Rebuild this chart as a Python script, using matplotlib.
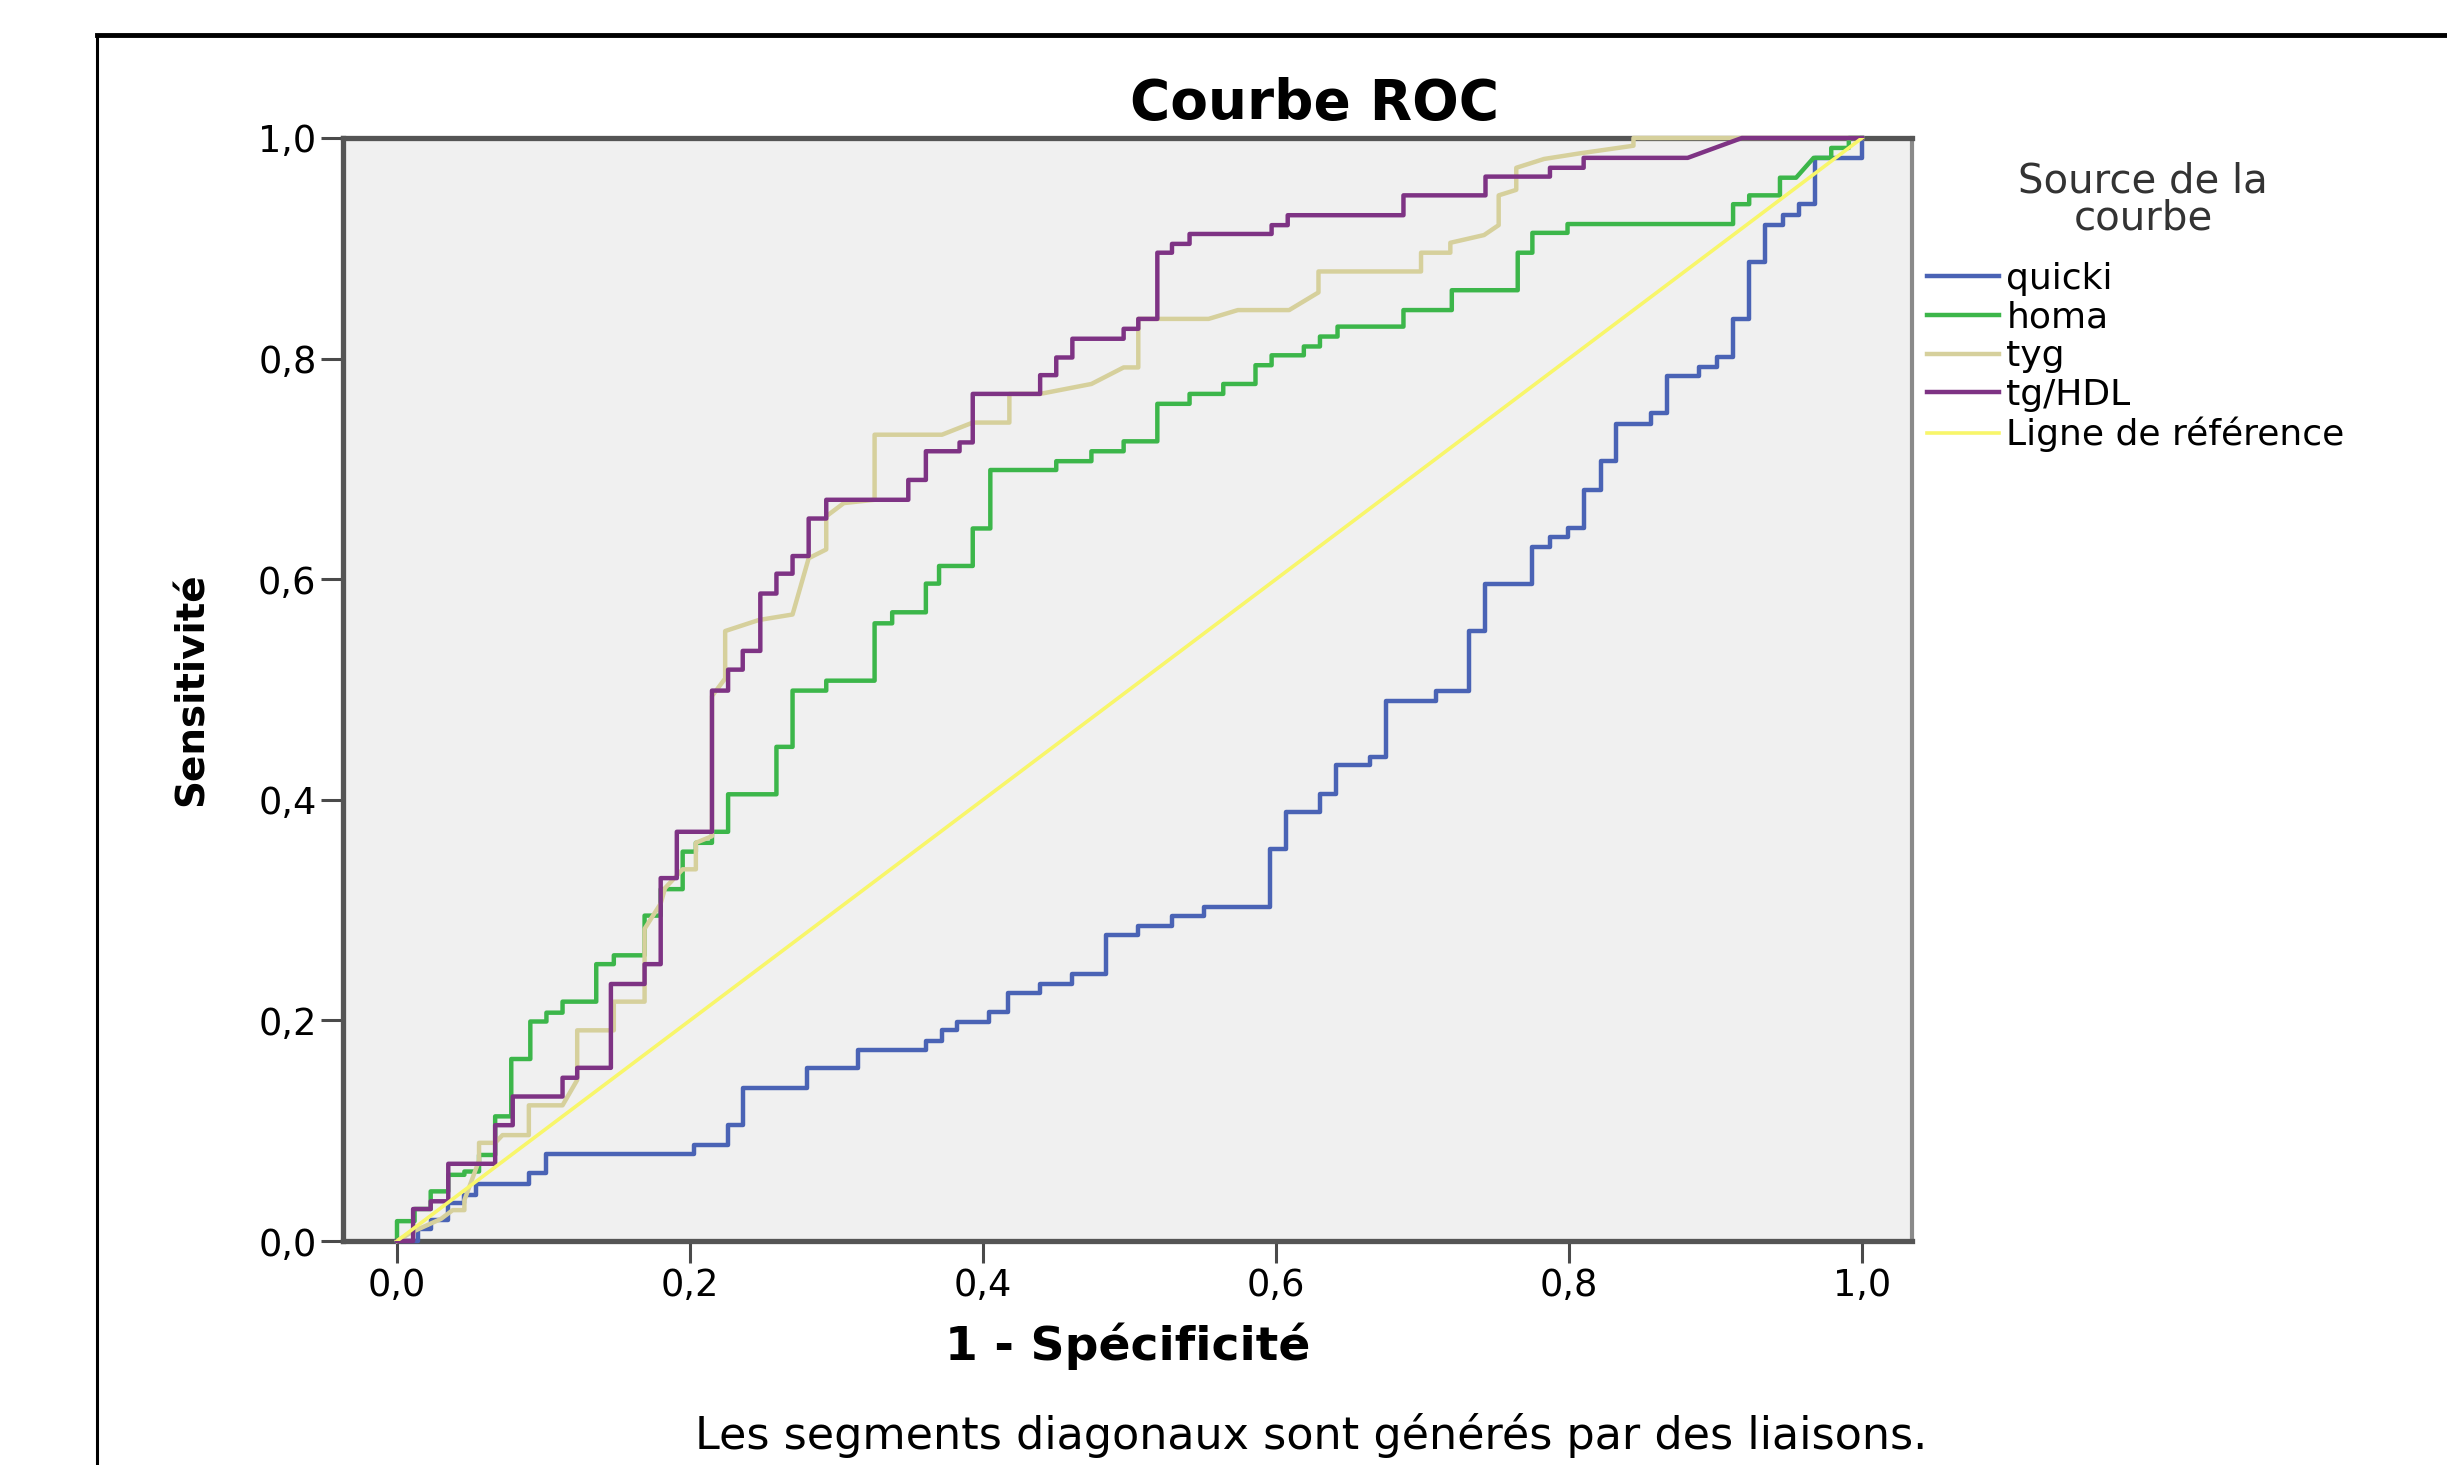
from matplotlib import pyplot as plt
from matplotlib.lines import Line2D

# ROC points (1 - specificity, sensitivity)
quicki_x = [0, 0.014, 0.014, 0.023, 0.023, 0.035, 0.035, 0.046, 0.046, 0.054, 0.054, 0.090, 0.090, 0.102, 0.102,
            0.203, 0.203, 0.226, 0.226, 0.236, 0.236, 0.280, 0.280, 0.315, 0.315, 0.361, 0.361, 0.372, 0.372,
            0.382, 0.382, 0.404, 0.404, 0.417, 0.417, 0.439, 0.439, 0.461, 0.461, 0.484, 0.484, 0.506, 0.506,
            0.529, 0.529, 0.551, 0.551, 0.596, 0.596, 0.607, 0.607, 0.630, 0.630, 0.641, 0.641, 0.664, 0.664,
            0.675, 0.675, 0.709, 0.709, 0.732, 0.732, 0.743, 0.743, 0.775, 0.775, 0.787, 0.787, 0.799, 0.799,
            0.810, 0.810, 0.822, 0.822, 0.832, 0.832, 0.856, 0.856, 0.867, 0.867, 0.889, 0.889, 0.901, 0.901,
            0.912, 0.912, 0.923, 0.923, 0.934, 0.934, 0.946, 0.946, 0.957, 0.957, 0.968, 0.968, 1.0, 1.0]
quicki_y = [0, 0, 0.011, 0.011, 0.019, 0.019, 0.034, 0.034, 0.042, 0.042, 0.052, 0.052, 0.062, 0.062, 0.079,
            0.079, 0.087, 0.087, 0.105, 0.105, 0.139, 0.139, 0.157, 0.157, 0.173, 0.173, 0.181, 0.181, 0.191,
            0.191, 0.199, 0.199, 0.208, 0.208, 0.225, 0.225, 0.233, 0.233, 0.242, 0.242, 0.277, 0.277, 0.286,
            0.286, 0.295, 0.295, 0.303, 0.303, 0.355, 0.355, 0.389, 0.389, 0.405, 0.405, 0.432, 0.432, 0.439,
            0.439, 0.490, 0.490, 0.499, 0.499, 0.553, 0.553, 0.596, 0.596, 0.629, 0.629, 0.638, 0.638, 0.646,
            0.646, 0.681, 0.681, 0.707, 0.707, 0.741, 0.741, 0.751, 0.751, 0.784, 0.784, 0.792, 0.792, 0.801,
            0.801, 0.836, 0.836, 0.888, 0.888, 0.921, 0.921, 0.930, 0.930, 0.940, 0.940, 0.982, 0.982, 1.0]

homa_x = [0, 0, 0.012, 0.012, 0.023, 0.023, 0.035, 0.035, 0.046, 0.046, 0.056, 0.056, 0.067, 0.067, 0.078,
          0.078, 0.091, 0.091, 0.102, 0.102, 0.113, 0.113, 0.136, 0.136, 0.148, 0.148, 0.169, 0.169, 0.180,
          0.180, 0.195, 0.195, 0.204, 0.204, 0.215, 0.215, 0.226, 0.226, 0.259, 0.259, 0.270, 0.270, 0.293,
          0.293, 0.326, 0.326, 0.338, 0.338, 0.361, 0.361, 0.370, 0.370, 0.393, 0.393, 0.405, 0.405, 0.450,
          0.450, 0.474, 0.474, 0.496, 0.496, 0.519, 0.519, 0.541, 0.541, 0.564, 0.564, 0.586, 0.586, 0.597,
          0.597, 0.619, 0.619, 0.630, 0.630, 0.642, 0.642, 0.687, 0.687, 0.720, 0.720, 0.765, 0.765, 0.775,
          0.775, 0.799, 0.799, 0.912, 0.912, 0.923, 0.923, 0.944, 0.944, 0.955, 0.967, 0.979, 0.979, 0.991,
          0.991, 1.0]
homa_y = [0, 0.018, 0.018, 0.029, 0.029, 0.045, 0.045, 0.060, 0.060, 0.063, 0.063, 0.078, 0.078, 0.113, 0.113,
          0.165, 0.165, 0.199, 0.199, 0.207, 0.207, 0.217, 0.217, 0.251, 0.251, 0.259, 0.259, 0.295, 0.295,
          0.319, 0.319, 0.353, 0.353, 0.361, 0.361, 0.371, 0.371, 0.405, 0.405, 0.448, 0.448, 0.499, 0.499,
          0.508, 0.508, 0.560, 0.560, 0.570, 0.570, 0.596, 0.596, 0.612, 0.612, 0.646, 0.646, 0.699, 0.699,
          0.707, 0.707, 0.716, 0.716, 0.725, 0.725, 0.759, 0.759, 0.768, 0.768, 0.777, 0.777, 0.794, 0.794,
          0.803, 0.803, 0.811, 0.811, 0.820, 0.820, 0.829, 0.829, 0.844, 0.844, 0.862, 0.862, 0.896, 0.896,
          0.914, 0.914, 0.922, 0.922, 0.940, 0.940, 0.948, 0.948, 0.964, 0.964, 0.982, 0.982, 0.991, 0.991,
          1.0, 1.0]

tyg_x = [0, 0.010, 0.030, 0.038, 0.046, 0.046, 0.056, 0.056, 0.067, 0.072, 0.090, 0.090, 0.113, 0.123, 0.123,
         0.148, 0.148, 0.169, 0.169, 0.180, 0.183, 0.195, 0.204, 0.204, 0.215, 0.215, 0.224, 0.224, 0.247,
         0.270, 0.281, 0.293, 0.293, 0.305, 0.326, 0.326, 0.372, 0.393, 0.418, 0.418, 0.439, 0.474, 0.496,
         0.506, 0.506, 0.554, 0.574, 0.609, 0.629, 0.629, 0.699, 0.699, 0.719, 0.719, 0.742, 0.752, 0.752,
         0.764, 0.764, 0.783, 0.807, 0.844, 0.844, 1.0]
tyg_y = [0, 0.008, 0.020, 0.028, 0.028, 0.037, 0.073, 0.089, 0.089, 0.096, 0.096, 0.123, 0.123, 0.146, 0.191,
         0.191, 0.217, 0.217, 0.283, 0.306, 0.320, 0.337, 0.337, 0.361, 0.367, 0.494, 0.510, 0.553, 0.563,
         0.568, 0.619, 0.627, 0.657, 0.669, 0.672, 0.731, 0.731, 0.742, 0.742, 0.768, 0.768, 0.777, 0.792,
         0.792, 0.836, 0.836, 0.844, 0.844, 0.860, 0.879, 0.879, 0.896, 0.896, 0.905, 0.912, 0.921, 0.948,
         0.953, 0.973, 0.981, 0.986, 0.993, 1.0, 1.0]

tghdl_x = [0, 0.011, 0.011, 0.023, 0.023, 0.035, 0.035, 0.067, 0.067, 0.079, 0.079, 0.113, 0.113, 0.123, 0.123,
           0.146, 0.146, 0.169, 0.169, 0.180, 0.180, 0.191, 0.191, 0.215, 0.215, 0.226, 0.226, 0.236, 0.236,
           0.248, 0.248, 0.259, 0.259, 0.270, 0.270, 0.281, 0.281, 0.293, 0.293, 0.349, 0.349, 0.361, 0.361,
           0.384, 0.384, 0.393, 0.393, 0.439, 0.439, 0.450, 0.450, 0.461, 0.461, 0.496, 0.496, 0.506, 0.506,
           0.519, 0.519, 0.529, 0.529, 0.541, 0.541, 0.597, 0.597, 0.608, 0.608, 0.687, 0.687, 0.743, 0.743,
           0.787, 0.787, 0.810, 0.810, 0.881, 0.918, 1.0]
tghdl_y = [0, 0, 0.029, 0.029, 0.036, 0.036, 0.070, 0.070, 0.105, 0.105, 0.131, 0.131, 0.148, 0.148, 0.157,
           0.157, 0.233, 0.233, 0.251, 0.251, 0.329, 0.329, 0.371, 0.371, 0.499, 0.499, 0.518, 0.518, 0.535,
           0.535, 0.587, 0.587, 0.605, 0.605, 0.621, 0.621, 0.655, 0.655, 0.672, 0.672, 0.690, 0.690, 0.716,
           0.716, 0.724, 0.724, 0.768, 0.768, 0.785, 0.785, 0.801, 0.801, 0.818, 0.818, 0.827, 0.827, 0.836,
           0.836, 0.896, 0.896, 0.904, 0.904, 0.913, 0.913, 0.921, 0.921, 0.930, 0.930, 0.948, 0.948, 0.965,
           0.965, 0.973, 0.973, 0.982, 0.982, 1.0, 1.0]

ref_x = [0, 1]
ref_y = [0, 1]

ticks = [0.0, 0.2, 0.4, 0.6, 0.8, 1.0]
tick_labels = ["0,0", "0,2", "0,4", "0,6", "0,8", "1,0"]

W, H = 2447, 1465
fig = plt.figure(figsize=(W / 100, H / 100), dpi=100)
ax = fig.add_axes([343 / W, 1 - 1241 / H, (1912 - 343) / W, (1241 - 138) / H])
ax.set_facecolor("#f0f0f0")

ax.plot(quicki_x, quicki_y, c="#4a63b5", lw=3.2, label="quicki", zorder=3, clip_on=False)
ax.plot(homa_x, homa_y, c="#3cb64a", lw=3.2, label="homa", zorder=3, clip_on=False)
ax.plot(tyg_x, tyg_y, c="#d6d09c", lw=3.2, label="tyg", zorder=3, clip_on=False)
ax.plot(tghdl_x, tghdl_y, c="#7e3384", lw=3.2, label="tg/HDL", zorder=3, clip_on=False)
ax.plot(ref_x, ref_y, c="#f8f66a", lw=2.6, label="Ligne de référence", zorder=3)

ax.set_xlim((343 - 397) / 1465, (1912 - 397) / 1465)
ax.set_ylim(0, 1)
ax.set_xticks(ticks)
ax.set_xticklabels(tick_labels)
ax.set_yticks(ticks)
ax.set_yticklabels(tick_labels)
ax.tick_params(length=16, width=2.2, color="#4a4a4a", labelsize=26.5, pad=3)
for lab in ax.get_xticklabels() + ax.get_yticklabels():
    lab.set_family("DejaVu Sans")

for s in ["left", "top", "bottom"]:
    ax.spines[s].set_color("#555555")
    ax.spines[s].set_linewidth(3.8)
ax.spines["right"].set_color("#8a8a8a")
ax.spines["right"].set_linewidth(3)

ax.set_title("Courbe ROC", x=(1314 - 343) / 1569, y=(1241 - 104) / 1103, va="center", pad=0,
             fontsize=39.5, fontweight="bold", family="DejaVu Sans")
ax.set_xlabel("1 - Spécificité", fontsize=34, fontweight="bold", family="DejaVu Sans", va="center")
ax.xaxis.set_label_coords(0.5, (1241 - 1346) / 1103)
ax.set_ylabel("Sensitivité", fontsize=28, fontweight="bold", family="DejaVu Sans", va="center")
ax.yaxis.set_label_coords((192 - 343) / 1569, 0.5)

leg = ax.legend(loc="upper left", bbox_to_anchor=(1927 / W, 1 - 262 / H), bbox_transform=fig.transFigure,
                frameon=False, fontsize=26, handlelength=2.0, handletextpad=0.2, labelspacing=0.13,
                borderpad=0, borderaxespad=0)
fig.text(2143 / W, 1 - 200 / H, "Source de la\ncourbe", ha="center", va="center", fontsize=29,
         family="DejaVu Sans", color="#333333", linespacing=0.9)

fig.text(1311 / W, 1 - 1436 / H, "Les segments diagonaux sont générés par des liaisons.",
         ha="center", va="center", fontsize=32, family="DejaVu Sans")

# outer frame of the SPSS output (only top and left edges are visible)
fig.add_artist(Line2D([97 / W, 1], [1 - 35 / H, 1 - 35 / H], transform=fig.transFigure, color="black", lw=3.5))
fig.add_artist(Line2D([97 / W, 97 / W], [0, 1 - 35 / H], transform=fig.transFigure, color="black", lw=2.2))

fig.savefig("out.png", dpi=100)
